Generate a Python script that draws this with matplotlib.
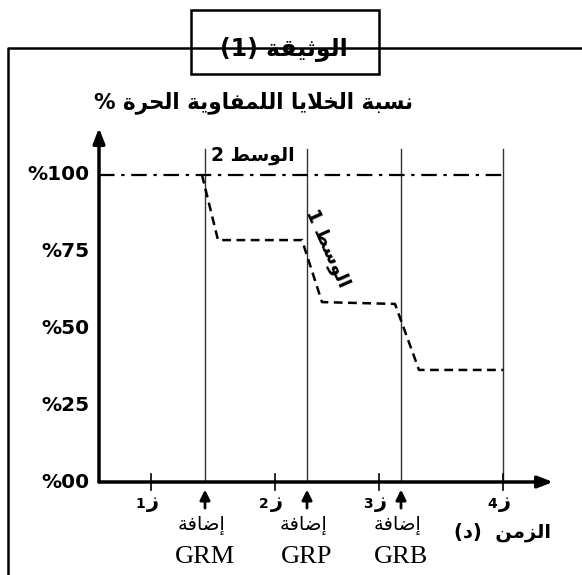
import matplotlib
matplotlib.use('Agg')
import matplotlib.pyplot as plt
from matplotlib.patches import Rectangle

# البيانات
t_add = [1.06, 2.08, 3.02]          # اوقات الاضافة
t_end = 4.04
tick_t = [0.52, 1.76, 2.80, 4.04]   # ز1 .. ز4
tick_names = ['1', '2', '3', '4']
add_names = ['GRM', 'GRP', 'GRB']
y_ticks = [100, 75, 50, 25, 0]
y_labels = ['%100', '%75', '%50', '%25', '%00']

# الوسط 1
m1_t = [1.03, 1.19, 2.03, 2.23, 2.96, 3.20, 4.04]
m1_y = [100, 78.8, 78.8, 58.6, 58.0, 36.5, 36.5]
# الوسط 2
m2_t = [0, 4.04]
m2_y = [100, 100]

# تشكيل الحروف العربية (بدون مكتبة خارجية)
FORMS = {
    'ا': (0xFE8D, 0xFE8E), 'إ': (0xFE87, 0xFE88), 'ب': (0xFE8F, 0xFE90, 0xFE91, 0xFE92),
    'ة': (0xFE93, 0xFE94), 'ث': (0xFE99, 0xFE9A, 0xFE9B, 0xFE9C),
    'ح': (0xFEA1, 0xFEA2, 0xFEA3, 0xFEA4), 'خ': (0xFEA5, 0xFEA6, 0xFEA7, 0xFEA8),
    'د': (0xFEA9, 0xFEAA), 'ر': (0xFEAD, 0xFEAE), 'ز': (0xFEAF, 0xFEB0),
    'س': (0xFEB1, 0xFEB2, 0xFEB3, 0xFEB4), 'ض': (0xFEBD, 0xFEBE, 0xFEBF, 0xFEC0),
    'ط': (0xFEC1, 0xFEC2, 0xFEC3, 0xFEC4), 'ف': (0xFED1, 0xFED2, 0xFED3, 0xFED4),
    'ق': (0xFED5, 0xFED6, 0xFED7, 0xFED8), 'ل': (0xFEDD, 0xFEDE, 0xFEDF, 0xFEE0),
    'م': (0xFEE1, 0xFEE2, 0xFEE3, 0xFEE4), 'ن': (0xFEE5, 0xFEE6, 0xFEE7, 0xFEE8),
    'و': (0xFEED, 0xFEEE), 'ي': (0xFEF1, 0xFEF2, 0xFEF3, 0xFEF4),
}
LAMALEF = {'لا': (0xFEFB, 0xFEFC), 'لإ': (0xFEF9, 0xFEFA)}


def shape(s):
    toks = []
    i = 0
    while i < len(s):
        if s[i] == 'ل' and i + 1 < len(s) and s[i + 1] in 'اإ':
            toks.append(s[i:i + 2]); i += 2
        else:
            toks.append(s[i]); i += 1

    def left(t):  # يتصل بما بعده
        return t in FORMS and len(FORMS[t]) == 4

    def right(t):
        return t in FORMS or t in LAMALEF

    out = []
    for k, t in enumerate(toks):
        p = k > 0 and left(toks[k - 1]) and right(t)
        n = k + 1 < len(toks) and left(t) and right(toks[k + 1])
        if t in LAMALEF:
            out.append(chr(LAMALEF[t][1 if p else 0]))
        elif t in FORMS:
            f = FORMS[t]
            if len(f) == 2:
                out.append(chr(f[1] if p else f[0]))
            else:
                out.append(chr(f[3] if (p and n) else f[1] if p else f[2] if n else f[0]))
        else:
            out.append(t)
    return ''.join(out)[::-1]


AR = 'DejaVu Sans'
SERIF = 'Liberation Serif'

fig = plt.figure(figsize=(5.82, 5.75), dpi=100)

# الاطار والعنوان (بالبكسل)
bg = fig.add_axes([0, 0, 1, 1])
bg.set_xlim(0, 582)
bg.set_ylim(575, 0)
bg.axis('off')
bg.plot([8, 8, 582], [575, 48, 48], color='black', lw=1.8)
bg.add_patch(Rectangle((191, 10), 188, 64, facecolor='white', edgecolor='black', lw=1.8))
bg.text(284, 49, '(1) ' + shape('الوثيقة'), fontsize=17, fontweight='bold',
        family=AR, ha='center', va='center')
bg.text(254, 103, '% ' + shape('نسبة الخلايا اللمفاوية الحرة'), fontsize=15.5,
        fontweight='bold', family=AR, ha='center', va='center')

# المنحنى
ax = fig.add_axes([99 / 582, (575 - 482) / 575, (553 - 99) / 582, (482 - 128) / 575])
ax.set_xlim(0, 4.54)
ax.set_ylim(0, (482 - 128) / 3.07)
ax.axis('off')

ax.annotate('', xy=(0, 1), xytext=(0, 0), xycoords='axes fraction',
            arrowprops=dict(arrowstyle='-|>,head_length=0.9,head_width=0.35', lw=2.5, color='black',
                            shrinkA=0, shrinkB=0))
ax.annotate('', xy=(1, 0), xytext=(0, 0), xycoords='axes fraction',
            arrowprops=dict(arrowstyle='-|>,head_length=0.9,head_width=0.35', lw=2.5, color='black',
                            shrinkA=0, shrinkB=0))

for t in t_add + [t_end]:
    ax.plot([t, t], [0, 108.5], color='#333333', lw=1.0)

ax.plot(m2_t, m2_y, color='black', lw=1.6, dashes=(7, 3, 1.5, 3))
ax.plot(m1_t, m1_y, color='black', lw=1.8, dashes=(3.5, 2.2))

for y, lab in zip(y_ticks, y_labels):
    ax.text(-0.09, y, lab, fontsize=14.5, fontweight='bold', family=AR,
            ha='right', va='center', clip_on=False)

for t, nm in zip(tick_t, tick_names):
    ax.plot([t, t], [-2.5, 2.5], color='black', lw=1.2, clip_on=False)
    ax.text(t + 0.02, -6.5, shape('ز'), fontsize=15, fontweight='bold', family=AR,
            ha='center', va='center', clip_on=False)
    ax.text(t - 0.11, -7.3, nm, fontsize=10, fontweight='bold', family=AR,
            ha='center', va='center', clip_on=False)

for t, nm in zip(t_add, add_names):
    ax.annotate('', xy=(t, -2.5), xytext=(t, -8.5),
                arrowprops=dict(arrowstyle='-|>,head_length=0.6,head_width=0.3', lw=2,
                                color='black', shrinkA=0, shrinkB=0), annotation_clip=False)
    ax.text(t - 0.03, -14, shape('إضافة'), fontsize=14, family=AR,
            ha='center', va='center', clip_on=False)
    ax.text(t, -24.5, nm, fontsize=19, family=SERIF,
            ha='center', va='center', clip_on=False)

ax.text(4.04, -16.3, '(' + shape('د') + ')  ' + shape('الزمن'), fontsize=14,
        fontweight='bold', family=AR, ha='center', va='center', clip_on=False)

ax.text(1.54, 106.5, '2 ' + shape('الوسط'), fontsize=13.5, fontweight='bold', family=AR,
        ha='center', va='center')
ax.text(2.29, 76, '1 ' + shape('الوسط'), fontsize=13.5, fontweight='bold', family=AR,
        ha='center', va='center', rotation=-66, rotation_mode='anchor')

fig.savefig('out.png', dpi=100)
